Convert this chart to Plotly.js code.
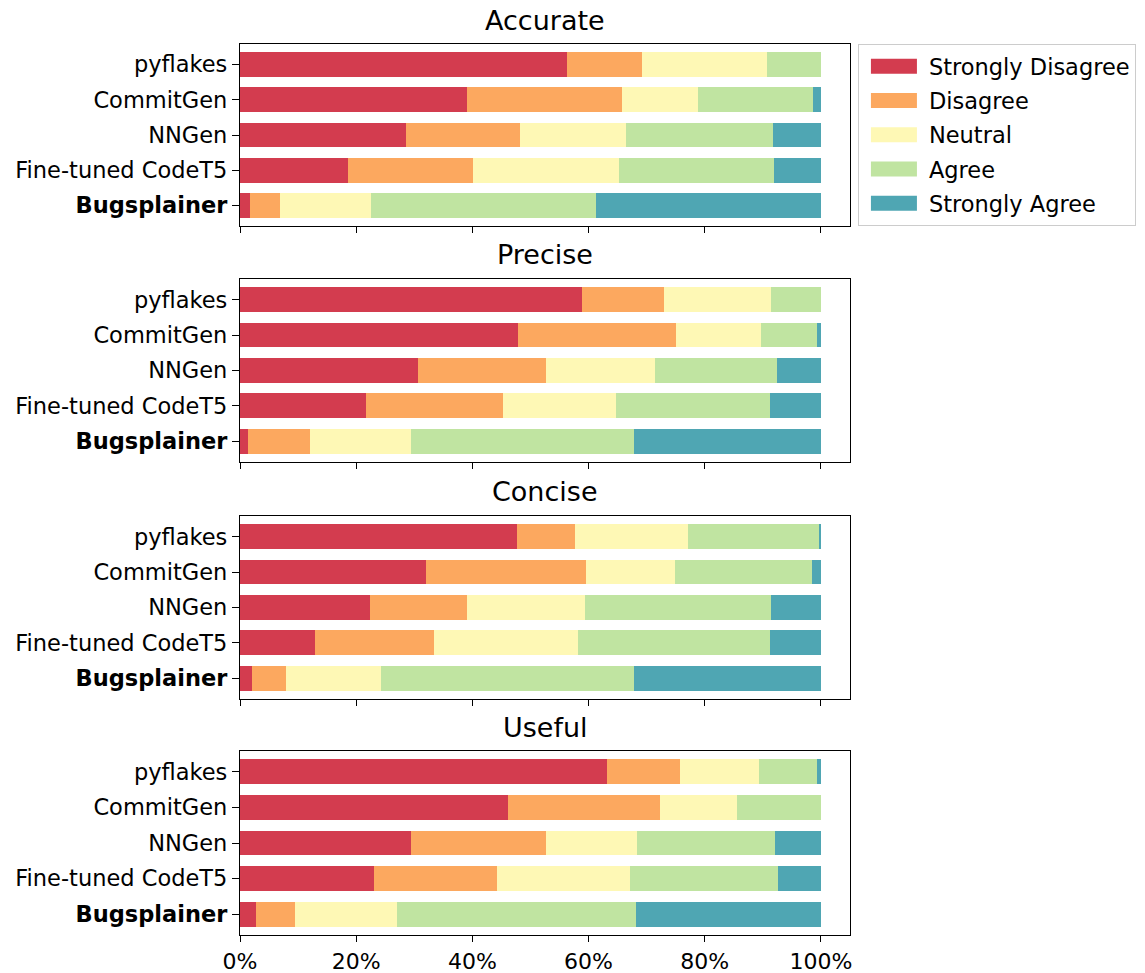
<!DOCTYPE html>
<html>
<head>
<meta charset="utf-8">
<script src="https://cdn.plot.ly/plotly-3.0.1.min.js"></script>
<style>
  html, body { margin: 0; padding: 0; background: #fff; }
  #chart { width: 1145px; height: 973px; }
</style>
</head>
<body>
<div id="chart"></div>
<script>
// ---- data ----
const categories = ['pyflakes', 'CommitGen', 'NNGen', 'Fine-tuned CodeT5', 'Bugsplainer'];
const boldCategory = 'Bugsplainer';
const levels = ['Strongly Disagree', 'Disagree', 'Neutral', 'Agree', 'Strongly Agree'];
const criteria = ['Accurate', 'Precise', 'Concise', 'Useful'];
const xTickValues = [0, 20, 40, 60, 80, 100];
const xTickLabels = ['0%', '20%', '40%', '60%', '80%', '100%'];

// Accurate (%)
const accurateSD = [56.3, 39.1, 28.5, 18.6, 1.7];
const accurateD  = [12.9, 26.7, 19.7, 21.5, 5.2];
const accurateN  = [21.5, 13.1, 18.2, 25.1, 15.6];
const accurateA  = [9.3, 19.8, 25.3, 26.8, 38.7];
const accurateSA = [0, 1.3, 8.3, 8.0, 38.8];

// Precise (%)
const preciseSD = [58.8, 47.8, 30.6, 21.7, 1.4];
const preciseD  = [14.2, 27.2, 22.0, 23.5, 10.6];
const preciseN  = [18.4, 14.7, 18.9, 19.6, 17.5];
const preciseA  = [8.6, 9.7, 21.0, 26.5, 38.4];
const preciseSA = [0, 0.6, 7.5, 8.7, 32.1];

// Concise (%)
const conciseSD = [47.6, 32.0, 22.4, 12.9, 2.1];
const conciseD  = [10.0, 27.6, 16.6, 20.5, 5.9];
const conciseN  = [19.5, 15.3, 20.3, 24.7, 16.3];
const conciseA  = [22.5, 23.6, 32.1, 33.2, 43.6];
const conciseSA = [0.4, 1.5, 8.6, 8.7, 32.1];

// Useful (%)
const usefulSD = [63.1, 46.2, 29.5, 23.1, 2.7];
const usefulD  = [12.7, 26.1, 23.1, 21.2, 6.7];
const usefulN  = [13.5, 13.3, 15.7, 22.9, 17.6];
const usefulA  = [10.1, 14.4, 23.8, 25.4, 41.1];
const usefulSA = [0.6, 0, 7.9, 7.4, 31.9];

const criterionSeries = [
  [accurateSD, accurateD, accurateN, accurateA, accurateSA],
  [preciseSD, preciseD, preciseN, preciseA, preciseSA],
  [conciseSD, conciseD, conciseN, conciseA, conciseSA],
  [usefulSD, usefulD, usefulN, usefulA, usefulSA]
];

// ---- styling ----
const colors = ['#d33c4f', '#fca85f', '#fef8b5', '#c0e4a1', '#4fa6b3'];
const FONT = 'DejaVu Sans, Liberation Sans, sans-serif';
const TICK_SIZE = 22.5;
const XTICK_SIZE = 22;
const TITLE_SIZE = 27;

// y domains (paper fractions) for the four panels, top to bottom
const domains = [[0.7957, 1.0], [0.5309, 0.7363], [0.2649, 0.4703], [0.0, 0.2065]];

const traces = [];
criteria.forEach((crit, ci) => {
  const axN = ci === 0 ? '' : String(ci + 1);
  criterionSeries[ci].forEach((vals, li) => {
    traces.push({
      type: 'bar',
      orientation: 'h',
      name: levels[li],
      legendgroup: levels[li],
      showlegend: ci === 0,
      x: vals,
      y: categories,
      width: 0.7,
      xaxis: 'x' + axN,
      yaxis: 'y' + axN,
      marker: { color: colors[li], line: { width: 0 } },
      hovertemplate: crit + '<br>%{y}: %{x}%<extra>' + levels[li] + '</extra>'
    });
  });
});

const tickText = categories.map(c => c === boldCategory ? '<b>' + c + '</b>' : c);

const layout = {
  width: 1145,
  height: 973,
  paper_bgcolor: '#ffffff',
  plot_bgcolor: '#ffffff',
  barmode: 'stack',
  font: { family: FONT, size: TICK_SIZE, color: '#000' },
  margin: { l: 240, r: 295, t: 44, b: 38, pad: 0, autoexpand: false },
  showlegend: true,
  legend: {
    x: 1.013, y: 1.0, xanchor: 'left', yanchor: 'top',
    traceorder: 'grouped',
    tracegroupgap: 2,
    bgcolor: '#ffffff',
    bordercolor: '#cccccc',
    borderwidth: 1,
    font: { family: FONT, size: TICK_SIZE, color: '#000' },
    itemwidth: 60
  },
  annotations: criteria.map((crit, ci) => ({
    text: crit,
    xref: 'paper', yref: 'paper',
    x: 0.5, y: domains[ci][1],
    xanchor: 'center', yanchor: 'middle',
    yshift: 24,
    showarrow: false,
    font: { family: FONT, size: TITLE_SIZE, color: '#000' }
  }))
};

criteria.forEach((crit, ci) => {
  const n = ci === 0 ? '' : String(ci + 1);
  layout['xaxis' + n] = {
    domain: [0, 1],
    anchor: 'y' + n,
    range: [0, 105],
    tickmode: 'array',
    tickvals: xTickValues,
    ticktext: xTickLabels,
    showticklabels: ci === criteria.length - 1,
    ticks: 'outside', ticklen: 6, tickwidth: 1.3, tickcolor: '#000',
    showline: true, linecolor: '#000', linewidth: 1.3, mirror: true,
    showgrid: false, zeroline: false,
    tickfont: { family: FONT, size: XTICK_SIZE, color: '#000' },
    automargin: false,
    fixedrange: true
  };
  layout['yaxis' + n] = {
    domain: domains[ci],
    anchor: 'x' + n,
    type: 'category',
    categoryorder: 'array',
    categoryarray: categories,
    tickmode: 'array',
    tickvals: categories,
    ticktext: tickText,
    range: [4.585, -0.585],
    ticks: 'outside', ticklen: 7, tickwidth: 1.3, tickcolor: '#000',
    showline: true, linecolor: '#000', linewidth: 1.3, mirror: true,
    showgrid: false, zeroline: false,
    tickfont: { family: FONT, size: TICK_SIZE, color: '#000' },
    automargin: false,
    fixedrange: true
  };
});

// widen the legend swatches to matplotlib-like rectangles
function widenLegendSwatches(gd) {
  gd.querySelectorAll('.legend .legendpoints path').forEach(p => {
    p.setAttribute('d', 'M23,7.5H-23V-7.5H23Z');
  });
}

const gd = document.getElementById('chart');
Plotly.newPlot(gd, traces, layout, { displayModeBar: false }).then(() => {
  widenLegendSwatches(gd);
  gd.on('plotly_afterplot', () => widenLegendSwatches(gd));
});
</script>
</body>
</html>
